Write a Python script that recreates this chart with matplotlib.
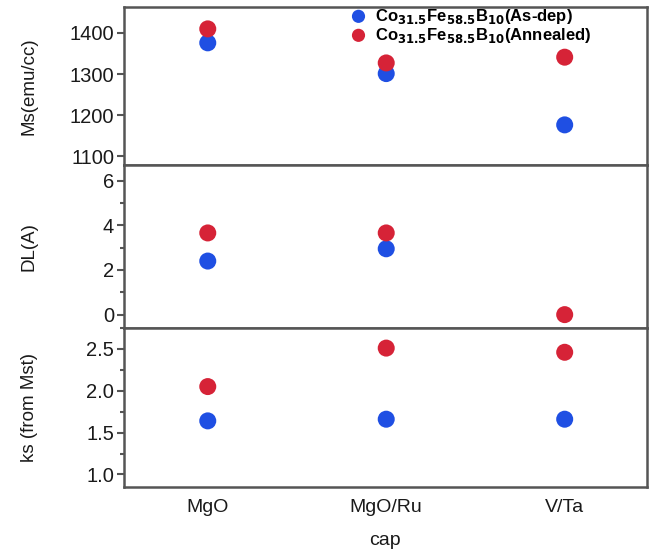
import matplotlib.pyplot as plt
from matplotlib.ticker import MultipleLocator

plt.rcParams['font.family'] = ['Liberation Sans', 'DejaVu Sans']

caps = ["MgO", "MgO/Ru", "V/Ta"]

# Ms (emu/cc)
ms_asdep = [1376, 1301, 1176]
ms_anneal = [1410, 1327, 1341]
# DL (A) -- as-dep has no V/Ta point
dl_asdep = [2.40, 2.95, None]
dl_anneal = [3.66, 3.66, 0.0]
# ks (from Mst)
ks_asdep = [1.64, 1.66, 1.66]
ks_anneal = [2.05, 2.51, 2.46]

blue = "#1f4fe3"
red = "#d62337"
txt = "#1a1a1a"
edge = "#555555"

fig, axes = plt.subplots(3, 1, figsize=(6.52, 5.49), dpi=100, sharex=True,
                         gridspec_kw={"height_ratios": [158, 163, 159]})
fig.subplots_adjust(left=0.190, right=0.992, top=0.987, bottom=0.113, hspace=0)

xs = list(range(len(caps)))
panels = [
    (ms_asdep, ms_anneal, "Ms(emu/cc)", (1078, 1463), 100, None),
    (dl_asdep, dl_anneal, "DL(A)", (-0.6, 6.7), 2, 1),
    (ks_asdep, ks_anneal, "ks (from Mst)", (0.85, 2.75), 0.5, 0.25),
]

for ax, (a, b, lab, lim, major, minor) in zip(axes, panels):
    xa = [x for x, v in zip(xs, a) if v is not None]
    va = [v for v in a if v is not None]
    ax.scatter(xa, va, s=150, color=blue, edgecolors="none", zorder=3)
    ax.scatter(xs, b, s=150, color=red, edgecolors="none", zorder=3)
    ax.set_ylim(*lim)
    ax.yaxis.set_major_locator(MultipleLocator(major))
    if minor:
        ax.yaxis.set_minor_locator(MultipleLocator(minor))
    ax.set_ylabel(lab, fontsize=13.5, color=txt)
    ax.yaxis.set_label_coords(-0.165, 0.5)
    ax.tick_params(axis="y", which="major", length=5, width=1.5, color=edge,
                   labelsize=14.5, labelcolor=txt, pad=2)
    ax.tick_params(axis="y", which="minor", length=3, width=1.5, color=edge)
    ax.tick_params(axis="x", length=0)
    for sp in ax.spines.values():
        sp.set_color(edge)
        sp.set_linewidth(1.8)

axes[0].yaxis.set_major_formatter(plt.FuncFormatter(lambda v, p: f"{v:.0f}"))
axes[1].yaxis.set_major_formatter(plt.FuncFormatter(lambda v, p: f"{v:.0f}"))
axes[2].yaxis.set_major_formatter(plt.FuncFormatter(lambda v, p: f"{v:.1f}"))

axes[2].set_xlim(-0.47, 2.46)
axes[2].set_xticks(xs)
axes[2].set_xticklabels(caps, fontsize=14, color=txt)
axes[2].tick_params(axis="x", pad=9)
axes[2].set_xlabel("cap", fontsize=14, color=txt, labelpad=11)

# legend (no frame) over the top panel
h1 = axes[0].scatter([], [], s=90, color=blue, edgecolors="none")
h2 = axes[0].scatter([], [], s=90, color=red, edgecolors="none")
axes[0].legend([h1, h2],
               [r"Co$_{\mathbf{31.5}}$Fe$_{\mathbf{58.5}}$B$_{\mathbf{10}}$(As-dep)",
                r"Co$_{\mathbf{31.5}}$Fe$_{\mathbf{58.5}}$B$_{\mathbf{10}}$(Annealed)"],
               loc="upper left", bbox_to_anchor=(0.42, 1.045), frameon=False,
               prop={"weight": "bold", "size": 12}, handletextpad=0.5,
               labelspacing=0.0, borderaxespad=0, handlelength=1.0)

fig.savefig("out.png", dpi=100)
